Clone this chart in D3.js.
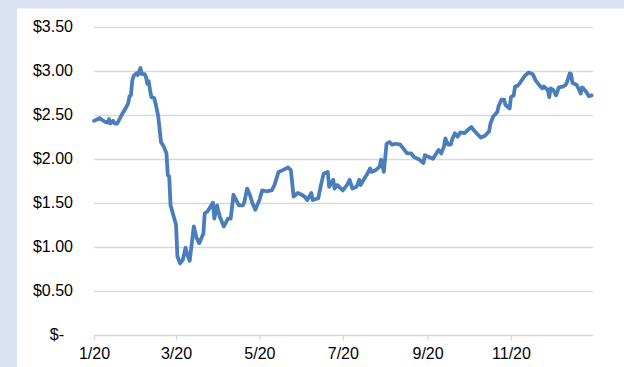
<!DOCTYPE html>
<html>
<head>
<meta charset="utf-8">
<script src="https://cdn.jsdelivr.net/npm/d3@7"></script>
<style>
  html, body { margin: 0; padding: 0; background: #dae3f3; }
  svg { display: block; }
  text { font-family: "Liberation Sans", Arial, sans-serif; fill: #000; }
</style>
</head>
<body>
<svg id="chart" width="624" height="367"></svg>
<script>
// Days after 1 Jan 2020
const dayOffsets = [0,4,8,10,11,12,14,15,17,20,23,25,26,27,28,29,31,32,34,35,37,38,39,40,41,42,44,45,47,49,51,53,54,55,56,58,60,61,62,63,65,67,68,70,73,75,77,80,81,83,87,88,90,92,95,98,100,102,104,106,109,110,112,114,116,118,121,123,126,130,132,135,138,142,144,146,149,152,154,156,159,160,164,166,168,171,172,175,176,178,182,185,187,189,192,194,195,198,200,202,203,206,209,210,212,214,216,218,221,224,226,229,232,234,238,241,242,245,248,250,252,254,256,257,259,261,262,264,266,268,271,273,276,278,281,283,286,289,290,292,295,296,298,300,301,304,305,307,308,310,312,315,318,321,323,326,328,329,332,333,334,336,338,340,343,345,346,348,349,350,353,354,356,357,358,360,362,364];
// Price in dollars
const prices = [2.43,2.46,2.42,2.41,2.45,2.40,2.43,2.40,2.40,2.49,2.57,2.63,2.71,2.72,2.89,2.94,2.97,2.95,3.03,2.96,2.96,2.93,2.85,2.88,2.78,2.70,2.69,2.63,2.48,2.19,2.14,2.06,1.81,1.80,1.47,1.36,1.25,0.89,0.85,0.81,0.85,0.99,0.92,0.84,1.23,1.10,1.04,1.15,1.38,1.40,1.50,1.32,1.47,1.34,1.23,1.32,1.32,1.59,1.53,1.47,1.47,1.51,1.66,1.59,1.49,1.42,1.53,1.64,1.63,1.64,1.70,1.85,1.87,1.90,1.87,1.57,1.61,1.59,1.57,1.53,1.61,1.53,1.55,1.70,1.83,1.85,1.68,1.76,1.66,1.70,1.64,1.70,1.76,1.66,1.68,1.76,1.70,1.78,1.83,1.89,1.85,1.87,1.91,1.99,1.85,2.17,2.19,2.16,2.17,2.16,2.12,2.06,2.06,2.02,1.99,1.95,2.04,2.02,2.00,2.05,2.10,2.06,2.14,2.23,2.16,2.16,2.22,2.29,2.25,2.30,2.29,2.32,2.36,2.32,2.27,2.24,2.26,2.31,2.40,2.48,2.53,2.60,2.67,2.67,2.61,2.57,2.70,2.72,2.82,2.83,2.87,2.94,2.98,2.96,2.89,2.83,2.80,2.82,2.78,2.70,2.80,2.78,2.72,2.81,2.82,2.84,2.87,2.97,2.96,2.86,2.84,2.81,2.74,2.81,2.80,2.76,2.71,2.72];
const yTicks = [0, 0.5, 1, 1.5, 2, 2.5, 3, 3.5];
const xTickMonths = ["2020-01-01","2020-03-01","2020-05-01","2020-07-01","2020-09-01","2020-11-01"];

const start = new Date(2020, 0, 1);
const data = dayOffsets.map((d, i) => ({ date: d3.timeDay.offset(start, d), value: prices[i] }));

const svg = d3.select("#chart");
// white panel
svg.append("rect").attr("x", 17).attr("y", 8.5).attr("width", 624 - 17).attr("height", 367 - 8.5).attr("fill", "#ffffff");

const x = d3.scaleTime().domain([new Date(2020, 0, 1), new Date(2020, 11, 31)]).range([94, 593]);
const y = d3.scaleLinear().domain([0, 3.5]).range([334.7, 26.7]);

// gridlines
svg.append("g").selectAll("line").data(yTicks.filter(v => v > 0)).join("line")
  .attr("x1", 94).attr("x2", 593)
  .attr("y1", d => Math.round(y(d)) + 0.5).attr("y2", d => Math.round(y(d)) + 0.5)
  .attr("stroke", "#d9d9d9").attr("stroke-width", 1.3);

// x axis
const parse = d3.timeParse("%Y-%m-%d");
const xTicks = xTickMonths.map(parse);
const xAxis = d3.axisBottom(x).tickValues(xTicks).tickFormat(d3.timeFormat("%-m/%y")).tickSize(5).tickPadding(7).tickSizeOuter(0);
const gx = svg.append("g").attr("transform", `translate(0,${Math.round(y(0)) + 0.5})`).call(xAxis);
gx.select(".domain").attr("stroke", "#d9d9d9").attr("stroke-width", 1.3).attr("d", "M94,0H593");
gx.selectAll(".tick line").attr("stroke", "#d9d9d9").attr("stroke-width", 1.3);
gx.selectAll(".tick text").attr("font-size", 16).attr("font-family", "Liberation Sans, Arial, sans-serif").attr("fill", "#000");

// y axis labels
const yAxis = d3.axisLeft(y).tickValues(yTicks)
  .tickFormat(v => v === 0 ? "$-" : d3.format("$.2f")(v)).tickSize(0).tickPadding(21);
const gy = svg.append("g").attr("transform", "translate(94,0)").call(yAxis);
gy.select(".domain").remove();
gy.selectAll(".tick text").attr("font-size", 16).attr("font-family", "Liberation Sans, Arial, sans-serif").attr("fill", "#000")
  .attr("dx", d => d === 0 ? -9 : 0);

// line
const line = d3.line().x(d => x(d.date)).y(d => y(d.value)).curve(d3.curveLinear);
svg.append("path").datum(data).attr("d", line)
  .attr("fill", "none").attr("stroke", "#4a7ebb").attr("stroke-width", 3.8)
  .attr("stroke-linejoin", "round").attr("stroke-linecap", "round");
</script>
</body>
</html>
